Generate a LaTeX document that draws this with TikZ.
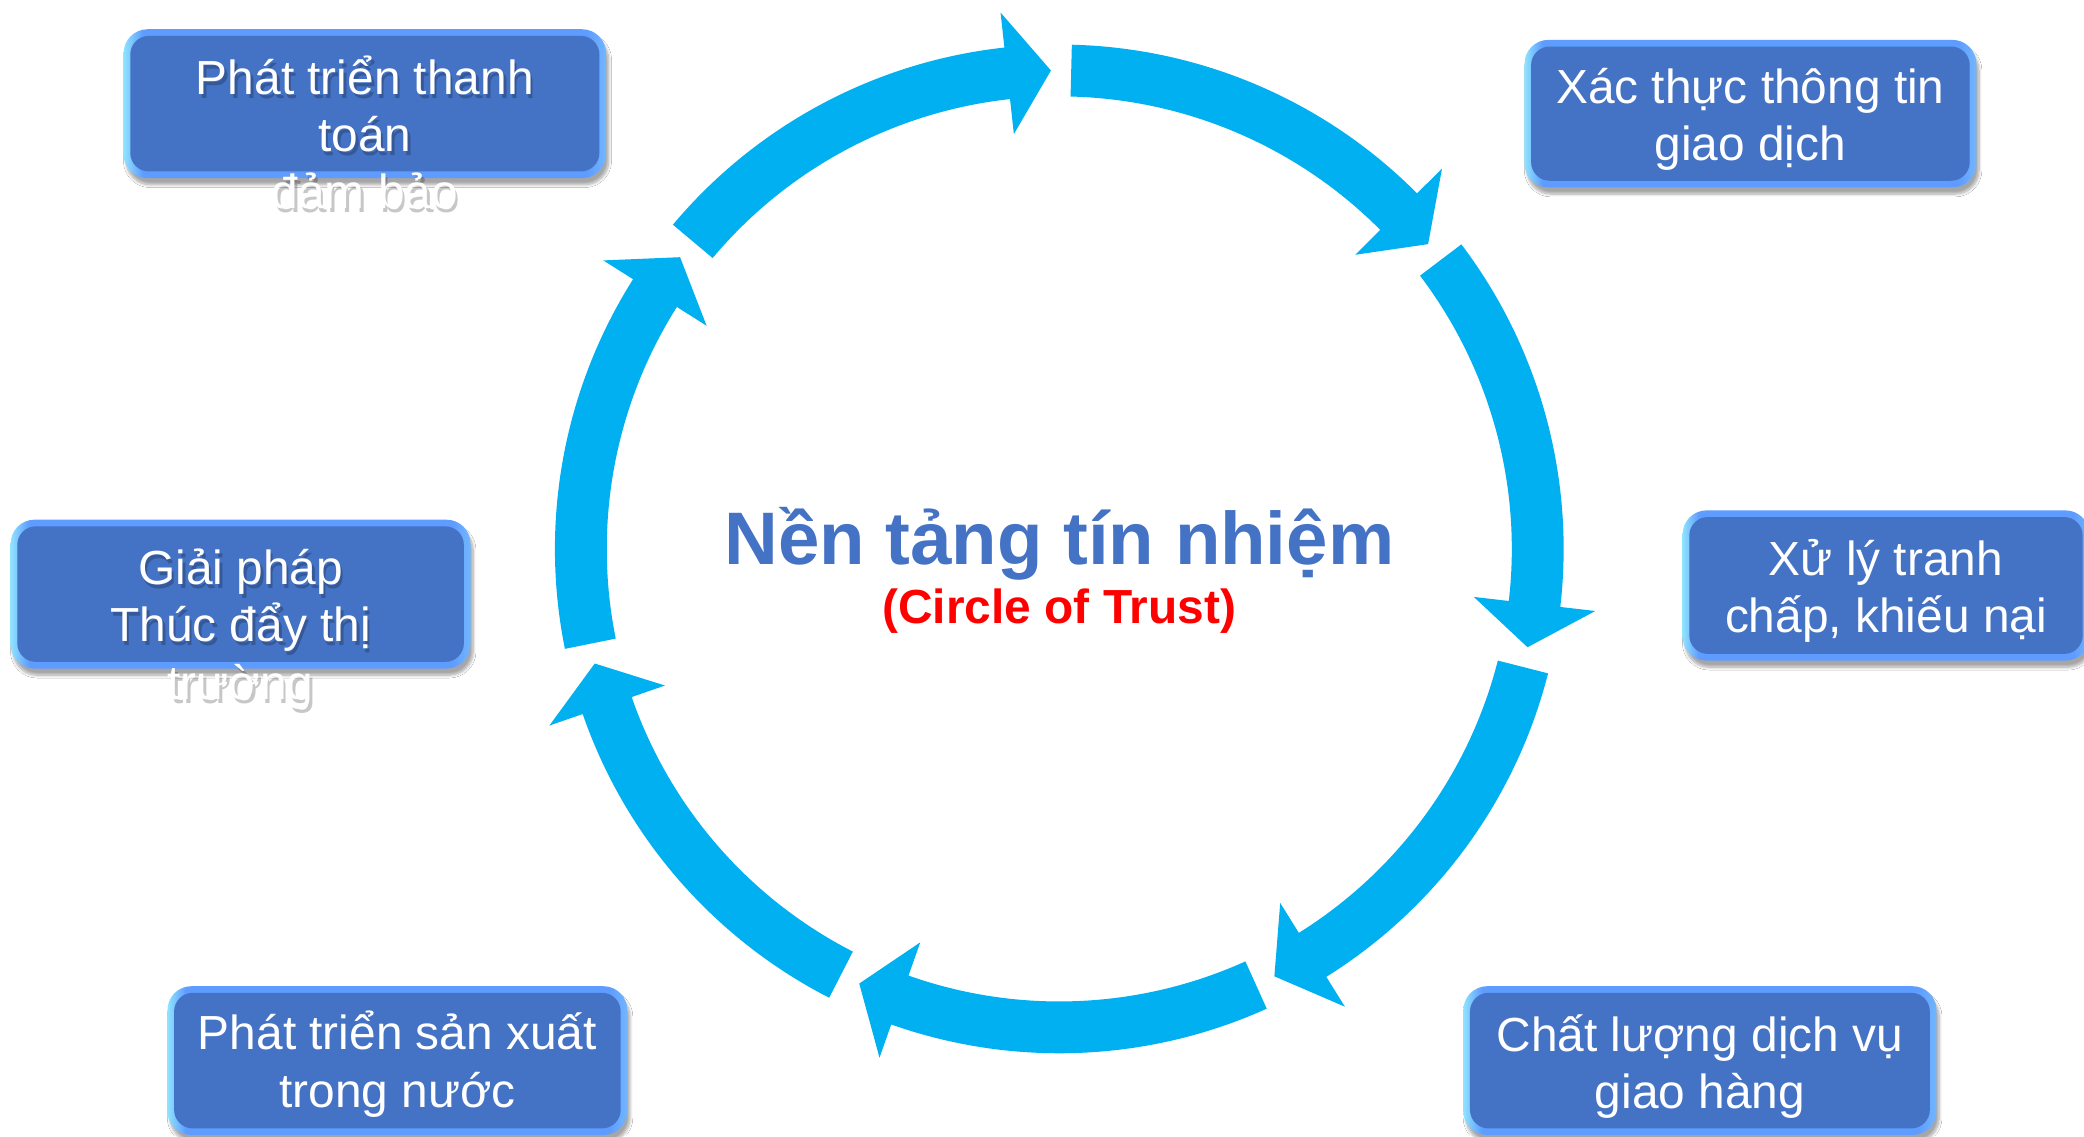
\documentclass[tikz,border=0pt]{standalone}
\usepackage{fontspec}
\setmainfont{Liberation Sans}
\usetikzlibrary{shadows.blur}
\definecolor{arrowc}{HTML}{00B0F0}
\definecolor{boxc}{HTML}{4472C4}
\definecolor{bordA}{HTML}{8FE3FF}
\definecolor{bordB}{HTML}{5E9CFF}
\definecolor{bordC}{HTML}{72B6FF}
\definecolor{titlec}{HTML}{4472C4}
\definecolor{subc}{HTML}{FF0000}
\pgfdeclarehorizontalshading{bordshade}{100bp}{color(0bp)=(bordA); color(25bp)=(bordA); color(27bp)=(bordB); color(73bp)=(bordB); color(75bp)=(bordC); color(100bp)=(bordC)}
\tikzset{
  obox/.style={rectangle, rounded corners=18pt, shading=bordshade, inner sep=0pt,
    blur shadow={shadow xshift=2pt, shadow yshift=-5pt, shadow blur steps=8, shadow opacity=35}},
  ibox/.style={rectangle, rounded corners=14pt, fill=boxc, inner sep=0pt},
  boxtext/.style={text=white, align=center, inner sep=0pt, anchor=base,
    font=\fontsize{36}{43}\selectfont},
  boxshadow/.style={boxtext, text=black, opacity=0.22},
  arrowseg/.style={fill=arrowc},
}
\newcommand\mybox[5]{%
  \node[obox, minimum width=#4pt, minimum height=#5pt] (#1) at (#2,#3) {};
  \node[ibox, minimum width={(#4-10)*1pt}, minimum height={(#5-10)*1pt}] (#1i) at (#1.center) {};
}
\begin{document}
\begin{tikzpicture}[x=1pt,y=-1pt]
\useasboundingbox (0,0) rectangle (1568,855);
\fill[white] (0,0) rectangle (1568,855);
\clip (0,0) rectangle (1568,855);

% circular arrows
\begin{scope}[shift={(797,413)}]
\foreach \k in {0,...,6}{
  \pgfmathsetmacro\ta{-140+51.4286*\k}
  \pgfmathsetmacro\tb{\ta+43.75}
  \pgfmathsetmacro\tp{\ta+49}
  \fill[arrowseg] (\ta:379.5) arc[start angle=\ta, end angle=\tb, radius=379.5]
     -- (\tb:406) -- (\tp:360) -- (\tb:314) -- (\tb:340.5)
     arc[start angle=\tb, end angle=\ta, radius=340.5] -- cycle;
}
\end{scope}

% centre text
\node[anchor=base, text=titlec, font=\fontsize{56}{60}\selectfont\bfseries, inner sep=0pt] (title) at (797,425) {Nền tảng tín nhiệm};
\node[anchor=base, text=subc, font=\fontsize{36}{40}\selectfont\bfseries, inner sep=0pt] (sub) at (797,469) {(Circle of Trust)};

% boxes
\mybox{b1}{274.5}{78}{363}{112}
\mybox{b2}{1317}{85.5}{340}{111}
\mybox{b3}{1419}{440.5}{306}{113}
\mybox{b4}{181}{447}{346}{112}
\mybox{b5}{299}{798}{346}{112}
\mybox{b6}{1279}{798}{356}{112}

% box texts (base anchor = baseline of last line)
\node[boxshadow] (t1s) at (276.5,160) {Phát triển thanh\\toán\\đảm bảo};
\node[boxtext] (t1) at (274.5,157) {Phát triển thanh\\toán\\đảm bảo};
\node[boxtext] (t2) at (1317,121) {Xác thực thông tin\\giao dịch};
\node[boxtext] (t3) at (1419,476) {Xử lý tranh\\chấp, khiếu nại};
\node[boxshadow] (t4s) at (183,529) {Giải pháp\\Thúc đẩy thị\\trường};
\node[boxtext] (t4) at (181,526) {Giải pháp\\Thúc đẩy thị\\trường};
\node[boxtext] (t5) at (299,833) {Phát triển sản xuất\\trong nước};
\node[boxtext] (t6) at (1279,834) {Chất lượng dịch vụ\\giao hàng};
\end{tikzpicture}
\end{document}
